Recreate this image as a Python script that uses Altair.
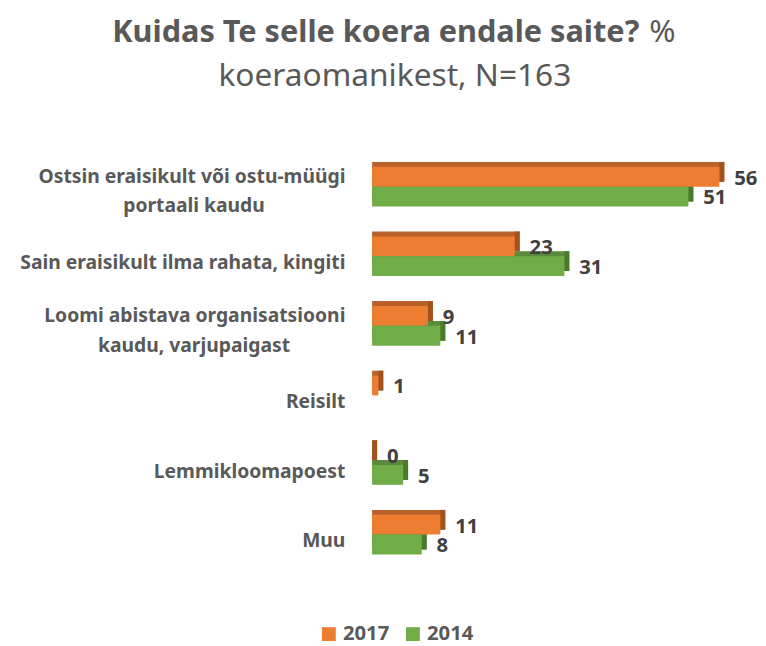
import altair as alt
import pandas as pd

# ---- data ----
categories = [
    "Ostsin eraisikult või ostu-müügi portaali kaudu",
    "Sain eraisikult ilma rahata, kingiti",
    "Loomi abistava organisatsiooni kaudu, varjupaigast",
    "Reisilt",
    "Lemmikloomapoest",
    "Muu",
]
label_line1 = [
    "Ostsin eraisikult või ostu-müügi",
    "Sain eraisikult ilma rahata, kingiti",
    "Loomi abistava organisatsiooni",
    "Reisilt",
    "Lemmikloomapoest",
    "Muu",
]
label_line2 = ["portaali kaudu", "", "kaudu, varjupaigast", "", "", ""]
years = ["2017", "2014"]
values_2017 = [56, 23, 9, 1, 0, 11]
values_2014 = [51, 31, 11, None, 5, 8]
title_bold = "Kuidas Te selle koera endale saite?"
title_rest = "%"
title_line2 = "koeraomanikest, N=163"

# ---- tables ----
rows = []
for c, v17, v14 in zip(categories, values_2017, values_2014):
    for y, v in (("2017", v17), ("2014", v14)):
        if v is not None:
            rows.append({"cat": c, "year": y, "value": v})
df = pd.DataFrame(rows)
labels_df = pd.DataFrame({"cat": categories, "line1": label_line1, "line2": label_line2})

FONT = "Noto Sans"
front_colors = ["#ED7D31", "#70AD47"]
top_colors = {"2017": "#B8612A", "2014": "#5A8A3A"}
side_colors = {"2017": "#A3521E", "2014": "#4A7A2C"}
y_shift = {"2017": -10, "2014": 10}

Y = alt.Y("cat:N", sort=categories,
          scale=alt.Scale(domain=categories, paddingInner=0, paddingOuter=0),
          axis=None)
X = alt.X("value:Q", scale=alt.Scale(domain=[0, 60]), axis=None)
COLOR = alt.Color(
    "year:N",
    scale=alt.Scale(domain=years, range=front_colors),
    legend=alt.Legend(
        title=None, orient="none", legendX=-54, legendY=477,
        direction="horizontal", symbolType="square", symbolSize=196,
        symbolStrokeWidth=0, symbolOpacity=1,
        labelFont=FONT, labelFontSize=20.5, labelFontWeight="bold",
        labelColor="#595959", labelOffset=4, columnPadding=13,
    ),
)

shadows, sides, fronts, values = [], [], [], []
for yr in years:
    d = df[df.year == yr]
    dy = y_shift[yr]
    shadows.append(
        alt.Chart(d).mark_bar(height=20, yOffset=dy - 5, xOffset=5,
                              color=top_colors[yr])
        .encode(y=Y, x=X, x2=alt.datum(0))
    )
    sides.append(
        alt.Chart(d).mark_bar(height=20, yOffset=dy - 5, x2Offset=5,
                              color=side_colors[yr])
        .encode(y=Y, x=X, x2=alt.X2("value:Q"))
    )
    fronts.append(
        alt.Chart(d).mark_bar(height=20, yOffset=dy)
        .encode(y=Y, x=X, x2=alt.datum(0), color=COLOR)
    )
    values.append(
        alt.Chart(d).mark_text(align="left", baseline="middle", dx=15, dy=2,
                               yOffset=dy, font=FONT, fontSize=20.5,
                               fontWeight="bold", color="#404040")
        .encode(y=Y, x=X, text="value:Q")
    )

lab_style = dict(baseline="middle", font=FONT, fontSize=19.5,
                 fontWeight="bold", color="#595959")
single = alt.Chart(labels_df).transform_filter("datum.line2 == ''").mark_text(
    align="right", dy=7, **lab_style).encode(y=Y, x=alt.value(-27), text="line1:N")
wrap1 = alt.Chart(labels_df).transform_filter("datum.line2 != ''").mark_text(
    align="right", dy=-10, **lab_style).encode(y=Y, x=alt.value(-27), text="line1:N")
wrap2 = alt.Chart(labels_df).transform_filter("datum.line2 != ''").mark_text(
    align="center", dy=20, **lab_style).encode(y=Y, x=alt.value(-180), text="line2:N")

t_style = dict(font=FONT, color="#595959", baseline="alphabetic")
t1 = alt.Chart(pd.DataFrame({"t": [title_bold]})).mark_text(
    align="right", fontWeight="bold", fontSize=31, **t_style).encode(
    x=alt.value(270), y=alt.value(-111), text="t:N")
t2 = alt.Chart(pd.DataFrame({"t": [title_rest]})).mark_text(
    align="left", fontWeight="normal", fontSize=32, **t_style).encode(
    x=alt.value(280), y=alt.value(-111), text="t:N")
t3 = alt.Chart(pd.DataFrame({"t": [title_line2]})).mark_text(
    align="center", fontWeight="normal", fontSize=32, **t_style).encode(
    x=alt.value(23), y=alt.value(-67), text="t:N")

chart = alt.layer(
    *shadows, *sides, *fronts, *values, single, wrap1, wrap2, t1, t2, t3
).properties(
    width=376, height=422,
    autosize=alt.AutoSizeParams(type="none"),
    padding={"left": 368, "top": 142, "right": 14, "bottom": 74},
).configure_view(stroke=None)

chart.save("out.html", embed_options={"renderer": "svg", "actions": False})
